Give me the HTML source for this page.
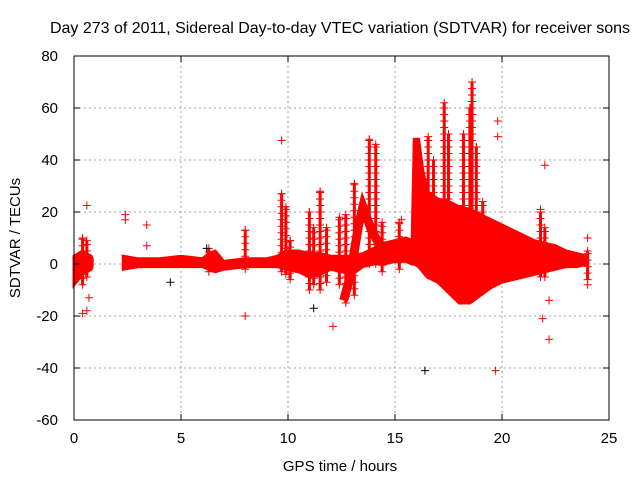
<!DOCTYPE html>
<html><head><meta charset="utf-8"><style>
body{margin:0;background:#fff;}
svg{display:block;font-family:"Liberation Sans",sans-serif;font-size:15px;}
</style></head><body>
<svg id="chart" width="640" height="480">
<text x="340" y="33" text-anchor="middle" font-size="16">Day 273 of 2011, Sidereal Day-to-day VTEC variation (SDTVAR) for receiver sons</text>
<text x="340" y="471" text-anchor="middle">GPS time / hours</text>
<text transform="translate(20,238) rotate(-90)" text-anchor="middle">SDTVAR / TECUs</text>
<g id="grid"></g><g id="marks"></g><g id="axes"></g>
</svg>
<script>
const xTicks=[0,5,10,15,20,25];
const yTicks=[-60,-40,-20,0,20,40,60,80];
const seg1T=[0,0.2,0.4,0.6,0.8,0.85];
const seg1Up=[3,4,5,4,3,2];
const seg1Lo=[-8,-6,-4,-3,-2,-1];
const seg2T=[2.3,3,4,5,6,6.3,6.6,7,8,9,9.5,9.9,10.5,11,11.5,12,12.5,13,13.5,14,14.5,15,15.5,15.8,15.9,16.1,16.3,16.5,17,17.5,18,18.5,19,19.5,20,20.5,21,21.5,22,22.5,23,23.5,24];
const seg2Up=[3,2,2,3,2,4,5,1,2,2,3,5,5,4,4,3,3,3,4,6,8,9,10,9,48,48,36,28,25,24,22,21,19,17,15,13,11,9,8,7,5,4,3];
const seg2Lo=[-2,-1,-1,-1,-1,-2,-3,-2,-1,-1,-1,-2,-3,-5,-4,-2,-3,-4,-1,0,0,1,1,0,0,-1,-3,-5,-7,-11,-15,-15,-12,-9,-7,-6,-5,-4,-3,-2,-1,-1,0];
const bandT=[12.6,12.9,13.1,13.3,13.5,13.9,14.3,15,15.8];
const bandV=[-14,-5,5,15,22,13,7,7,8];
const spikeT=[0.4,0.6,6.3,8,9.7,9.9,10.1,11.0,11.2,11.5,11.8,12.4,12.7,13.1,13.8,14.1,14.4,15.2,16.55,16.8,17.3,17.5,18.2,18.5,18.6,18.8,19.1,21.8,22.0,24];
const spikeTop=[10,9,6,13,27,22,9,20,14,28,14,18,19,31,48,46,16,16,49,40,62,50,50,60,70,45,24,20,14,5];
const spikeBot=[-8,-5,-3,-2,-3,-4,-6,-10,-8,-10,-7,-8,-15,-12,0,0,-3,-2,10,10,10,10,10,10,10,10,5,-5,-5,-6];
const outT=[9.7,22,19.8,19.8,21.9,22.2,22.2,19.7,8,12.1,0.6,0.4,0.7,2.4,2.4,3.4,3.4,21.8,24,24,15.3,0.6];
const outV=[47.5,38,55,49,-21,-29,-14,-41,-20,-24,-18,-19,-13,19,17,15,7,21,10,-8,17,22.5];
const blackT=[16.4,11.2,4.5,6.2];
const blackV=[-41,-17,-7,6];
const NS='http://www.w3.org/2000/svg';
const L=74,R=609,T=56,B=420;
const xs=t=>L+(t-0)/25*(R-L);
const ys=v=>B-(v+60)/140*(B-T);
function mk(tag,parent,attrs){const e=document.createElementNS(NS,tag);for(const k in attrs)e.setAttribute(k,attrs[k]);document.getElementById(parent).appendChild(e);return e;}
xTicks.forEach(t=>{
 if(t>0&&t<25){const g=mk('line','grid',{x1:xs(t),x2:xs(t),y1:T,y2:B,stroke:'#a0a0a0','stroke-dasharray':'2,3'});
 
 }
 const tk=mk('text','axes',{x:xs(t),y:B+23,'text-anchor':'middle'});tk.textContent=t;
 
 
 mk('line','axes',{x1:xs(t),x2:xs(t),y1:B,y2:B-6,stroke:'#000'});mk('line','axes',{x1:xs(t),x2:xs(t),y1:T,y2:T+6,stroke:'#000'});
});
yTicks.forEach(v=>{
 if(v>-60&&v<80){const g=mk('line','grid',{x1:L,x2:R,y1:ys(v),y2:ys(v),stroke:'#a0a0a0','stroke-dasharray':'2,3'});
 
 }
 const tk=mk('text','axes',{x:L-16,y:ys(v)+5,'text-anchor':'end'});tk.textContent=v;
 
 
 mk('line','axes',{x1:L,x2:L+6,y1:ys(v),y2:ys(v),stroke:'#000'});mk('line','axes',{x1:R,x2:R-6,y1:ys(v),y2:ys(v),stroke:'#000'});
});
const fr=mk('rect','axes',{x:L,y:T,width:R-L,height:B-T,fill:'none',stroke:'#000'});


function env(tA,up,lo,name){
 let p=tA.map((t,i)=>xs(t)+','+ys(up[i]));
 for(let i=tA.length-1;i>=0;i--)p.push(xs(tA[i])+','+ys(lo[i]));
 const e=mk('polygon','marks',{points:p.join(' '),fill:'#ff0000',stroke:'#ff0000','stroke-width':3});
 
 
}
env(seg1T,seg1Up,seg1Lo,'variation-envelope-early');
env(seg2T,seg2Up,seg2Lo,'variation-envelope-main');
const bl=mk('polyline','marks',{points:bandT.map((t,i)=>xs(t)+','+ys(bandV[i])).join(' '),fill:'none',stroke:'#ff0000','stroke-width':9});


function plus(t,v,c,name){
 const x=xs(t),y=ys(v);
 const e=mk('path','marks',{d:`M${x-4},${y}h8M${x},${y-4}v8`,stroke:c,'stroke-width':1});
 
 
}
spikeT.forEach((t,i)=>{
 const s=mk('line','marks',{x1:xs(t),x2:xs(t),y1:ys(spikeTop[i]),y2:ys(spikeBot[i]),stroke:'#ff0000','stroke-width':3});
 
 
 for(let v=spikeBot[i];v<=spikeTop[i];v+=2.5){plus(t,v,'#ff0000','spike-point');}
 plus(t,spikeTop[i],'#ff0000','spike-top-point');
});
outT.forEach((t,i)=>plus(t,outV[i],'#ff0000','outlier-point'));
blackT.forEach((t,i)=>plus(t,blackV[i],'#000','black-point'));
</script>
</body></html>
